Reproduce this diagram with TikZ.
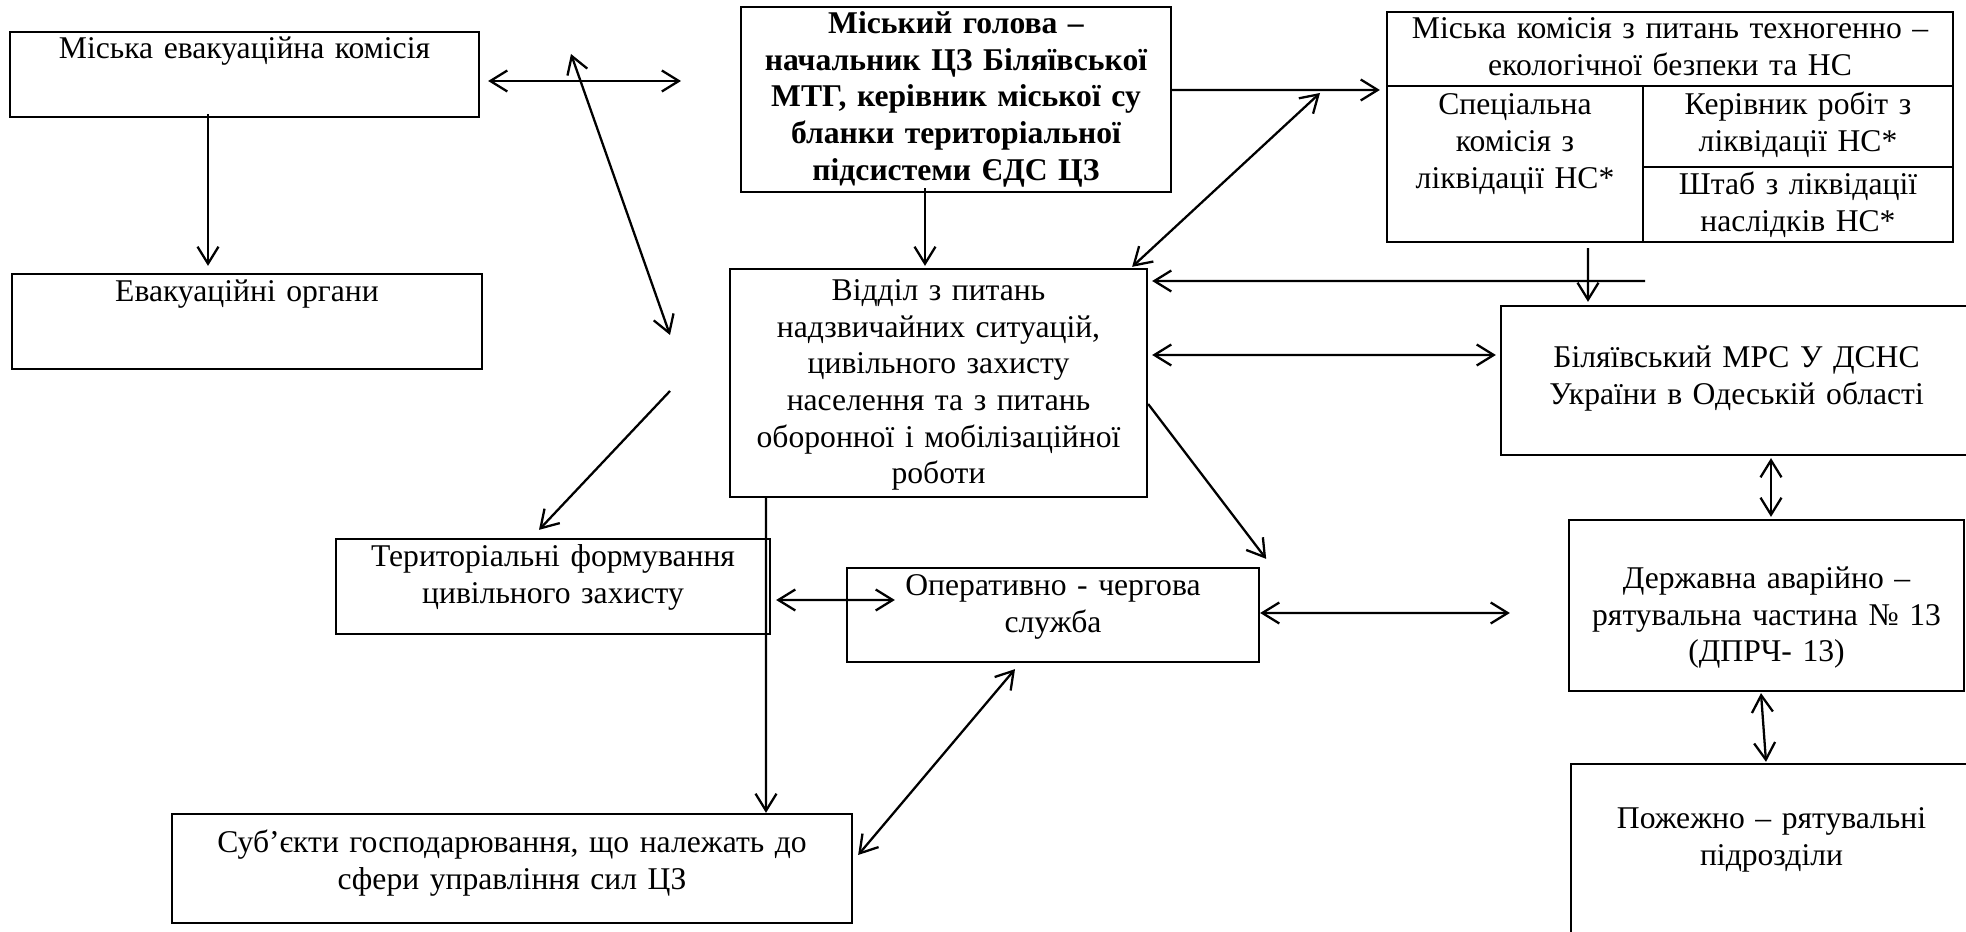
\documentclass[tikz,border=0pt]{standalone}
\usepackage{fontspec}
\setmainfont{Liberation Serif}
\usetikzlibrary{arrows.meta}

\begin{document}
\begin{tikzpicture}[
        box/.style={draw, line width=1.3pt, inner sep=0pt},
        txt/.style={text width=13cm, align=center, inner sep=0pt, anchor=base, font=\fontsize{18}{20.8}\selectfont},
        arr/.style={line width=1.3pt, -{Straight Barb[length=0.34cm, width=0.42cm]}},
        darr/.style={line width=1.3pt, {Straight Barb[length=0.34cm, width=0.42cm]}-{Straight Barb[length=0.34cm, width=0.42cm]}}
    ]
        \useasboundingbox (0,0) rectangle (39.32,18.62);
        \clip (0,0) rectangle (39.32,18.62);

        \node[box, minimum width=9.38cm, minimum height=1.70cm] (evac) at (4.89,17.13) {};
        \node[txt, yshift=-0.56cm] (evac-t) at (evac.north) {Міська евакуаційна комісія};
        \node[box, minimum width=9.40cm, minimum height=1.90cm] (evorg) at (4.94,12.19) {};
        \node[txt, yshift=-0.58cm] (evorg-t) at (evorg.north) {Евакуаційні органи};

        \node[box, minimum width=8.60cm, minimum height=3.70cm] (head) at (19.12,16.63) {};
        \node[txt, yshift=-0.56cm, font=\fontsize{18}{20.8}\selectfont\bfseries] (head-t) at (head.north) {Міський голова –\\ начальник ЦЗ Біляївської\\ МТГ, керівник міської су\\ бланки територіальної\\ підсистеми ЄДС ЦЗ};
        \node[box, minimum width=8.34cm, minimum height=4.56cm] (dept) at (18.77,10.96) {};
        \node[txt, yshift=-0.66cm] (dept-t) at (dept.north) {Відділ з питань\\ надзвичайних ситуацій,\\ цивільного захисту\\ населення та з питань\\ оборонної і мобілізаційної\\ роботи};

        \node[box, minimum width=11.32cm, minimum height=4.60cm] (comm) at (33.40,16.08) {};
        \node[txt, yshift=-0.56cm] (comm-t) at (comm.north) {Міська комісія з питань техногенно –\\ екологічної безпеки та НС};
        \draw[line width=1.3pt] (27.74,16.90) -- (39.06,16.90);
        \draw[line width=1.3pt] (32.86,16.90) -- (32.86,13.78);
        \draw[line width=1.3pt] (32.86,15.28) -- (39.06,15.28);
        \node[txt] (spec) at (30.30,16.32) {Спеціальна\\ комісія з\\ ліквідації НС*};
        \node[txt] (lead) at (35.96,16.32) {Керівник робіт з\\ ліквідації НС*};
        \node[txt] (hq) at (35.96,14.72) {Штаб з ліквідації\\ наслідків НС*};

        \node[box, minimum width=9.42cm, minimum height=2.98cm] (mrs) at (34.73,11.01) {};
        \node[txt, yshift=-1.26cm] (mrs-t) at (mrs.north) {Біляївський МРС У ДСНС\\ України в Одеській області};
        \node[box, minimum width=7.90cm, minimum height=3.42cm] (darch) at (35.33,6.51) {};
        \node[txt, yshift=-1.40cm] (darch-t) at (darch.north) {Державна аварійно –\\ рятувальна частина № 13\\ (ДПРЧ- 13)};
        \node[box, minimum width=8.02cm, minimum height=3.62cm] (fire) at (35.43,1.53) {};
        \node[txt, yshift=-1.32cm] (fire-t) at (fire.north) {Пожежно – рятувальні\\ підрозділи};

        \node[box, minimum width=8.24cm, minimum height=1.88cm] (duty) at (21.06,6.32) {};
        \node[txt, yshift=-0.58cm] (duty-t) at (duty.north) {Оперативно - чергова\\ служба};
        \node[box, minimum width=8.68cm, minimum height=1.90cm] (terr) at (11.06,6.89) {};
        \node[txt, yshift=-0.58cm] (terr-t) at (terr.north) {Територіальні формування\\ цивільного захисту};
        \node[box, minimum width=13.60cm, minimum height=2.18cm] (subj) at (10.24,1.25) {};
        \node[txt, yshift=-0.80cm] (subj-t) at (subj.north) {Суб’єкти господарювання, що належать до\\ сфери управління сил ЦЗ};

        \coordinate (gapT) at (13.62,17.00);
        \coordinate (gapA) at (11.42,17.54);
        \coordinate (gapB) at (13.40,11.92);
        \coordinate (gapC) at (13.40,10.80);
        \coordinate (gapD) at (26.40,16.76);
        \coordinate (gapE) at (32.90,13.00);

        \draw[arr] ([xshift=-0.73cm, yshift=0.08cm]evac.south) -- ([xshift=-0.78cm, yshift=0.14cm]evorg.north);
        \draw[darr] ([xshift=0.16cm, yshift=-0.13cm]evac.east) -- (gapT);
        \draw[darr] (gapA) -- (gapB);
        \draw[arr] (gapC) -- ([xshift=-0.28cm, yshift=0.16cm]terr.north);
        \draw[arr] ([xshift=-0.62cm, yshift=0.10cm]head.south) -- ([xshift=-0.27cm, yshift=0.04cm]dept.north);
        \draw[arr] ([yshift=0.19cm]head.east) -- ([xshift=-0.12cm, yshift=0.74cm]comm.west);
        \draw[darr] ([xshift=-0.32cm, yshift=0.02cm]dept.north east) -- (gapD);
        \draw[arr] ([xshift=-1.64cm, yshift=-0.10cm]comm.south) -- ([xshift=-2.97cm, yshift=0.06cm]mrs.north);
        \draw[arr] (gapE) -- ([xshift=0.08cm, yshift=2.04cm]dept.east);
        \draw[darr] ([xshift=0.08cm, yshift=0.56cm]dept.east) -- ([xshift=-0.08cm, yshift=0.51cm]mrs.west);
        \draw[arr] ([yshift=-0.42cm]dept.east) -- ([xshift=0.12cm, yshift=0.16cm]duty.north east);
        \draw[arr] ([xshift=-3.45cm]dept.south) -- ([xshift=5.08cm]subj.north);
        \draw[darr] ([xshift=0.10cm, yshift=-0.27cm]terr.east) -- ([xshift=0.98cm, yshift=0.30cm]duty.west);
        \draw[darr] ([yshift=0.04cm]duty.east) -- ([xshift=-1.16cm, yshift=-0.15cm]darch.west);
        \draw[darr] ([xshift=-0.76cm, yshift=-0.12cm]duty.south) -- ([xshift=0.10cm, yshift=0.27cm]subj.east);
        \draw[darr] ([xshift=0.69cm, yshift=-0.04cm]mrs.south) -- ([xshift=0.09cm, yshift=0.04cm]darch.north);
        \draw[darr] ([xshift=-0.11cm, yshift=-0.02cm]darch.south) -- ([xshift=-0.11cm, yshift=0.02cm]fire.north);
    \end{tikzpicture}
\end{document}
